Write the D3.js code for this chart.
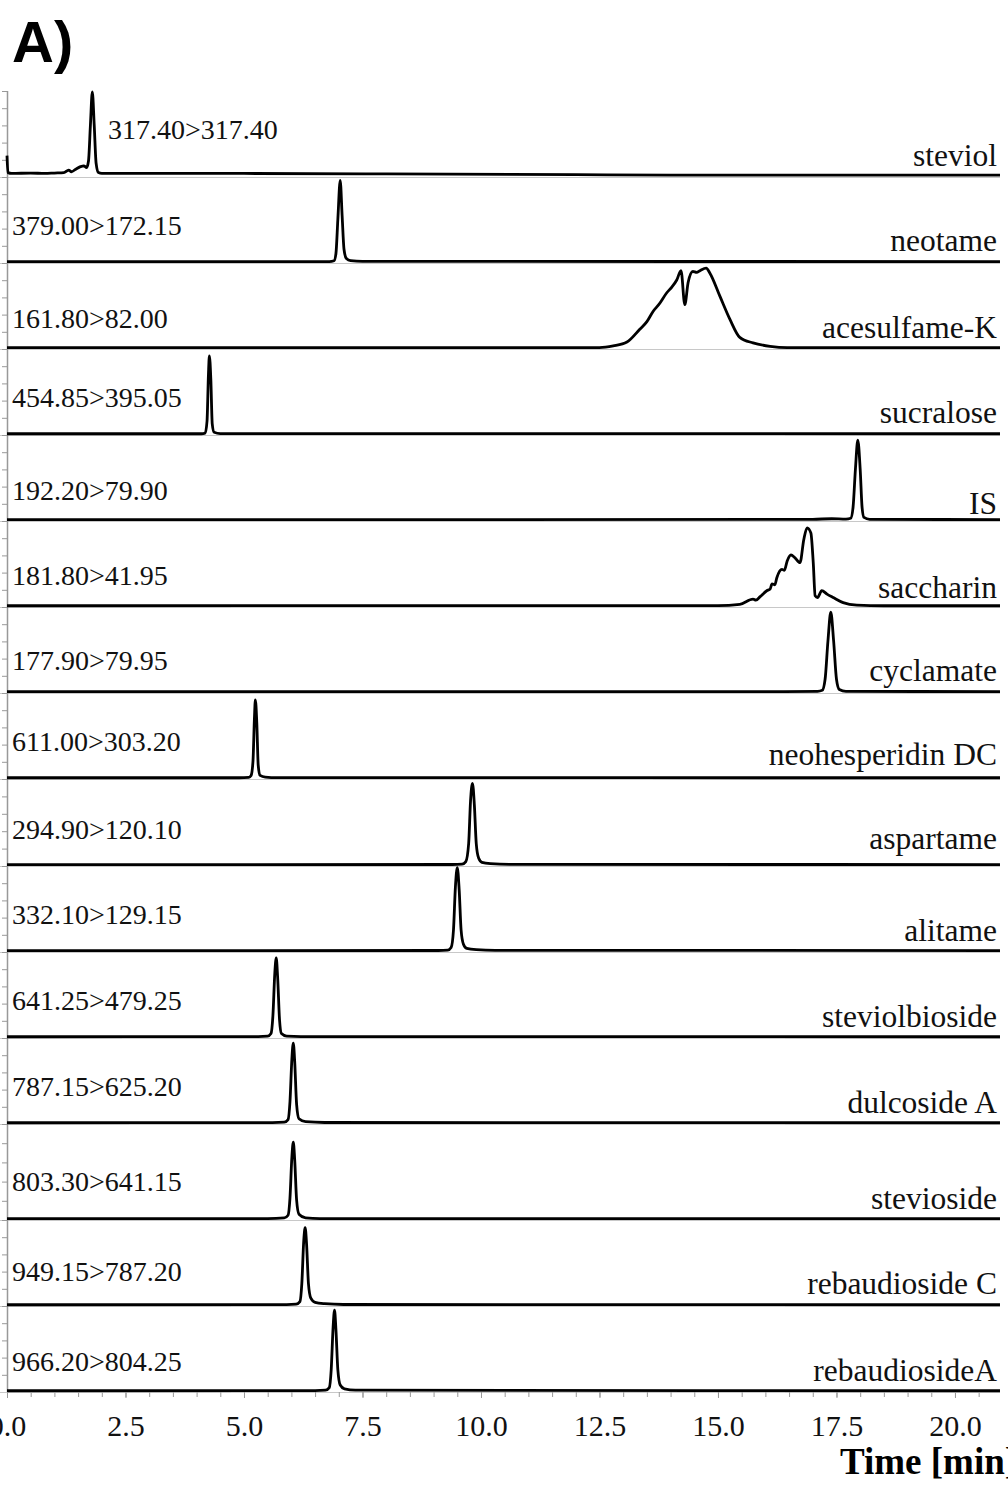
<!DOCTYPE html>
<html>
<head>
<meta charset="utf-8">
<script src="https://cdn.jsdelivr.net/npm/d3@7"></script>
<style>
  body { margin: 0; background: #fff; }
  svg { display: block; }
  .mrm { font-family: "Liberation Serif", "Times New Roman", serif; font-size: 28px; fill: #111; }
  .name { font-family: "Liberation Serif", "Times New Roman", serif; font-size: 31.5px; fill: #111; }
  .tick text { font-family: "Liberation Serif", "Times New Roman", serif; font-size: 30px; fill: #111; }
</style>
</head>
<body>
<div id="chart"></div>
<script>
// compound names (right) and MRM transitions (left), top to bottom
var compounds = ["steviol", "neotame", "acesulfame-K", "sucralose", "IS", "saccharin",
    "cyclamate", "neohesperidin DC", "aspartame", "alitame", "steviolbioside",
    "dulcoside A", "stevioside", "rebaudioside C", "rebaudiosideA"];
var transitions = ["317.40>317.40", "379.00>172.15", "161.80>82.00", "454.85>395.05",
    "192.20>79.90", "181.80>41.95", "177.90>79.95", "611.00>303.20", "294.90>120.10",
    "332.10>129.15", "641.25>479.25", "787.15>625.20", "803.30>641.15",
    "949.15>787.20", "966.20>804.25"];
var timeTicks = [0, 2.5, 5, 7.5, 10, 12.5, 15, 17.5, 20];

// traces: [time (min), intensity (% of panel)]
var steviol = [[0,24],[0.02,4],[0.1,3],[0.5,3.5],[0.8,3],[1.0,3.5],[1.2,4],[1.3,7],[1.36,5],
    [1.45,8],[1.55,11],[1.62,12],[1.68,10],[1.72,18],[1.76,60],[1.80,99],[1.84,60],[1.88,15],
    [1.93,4],[2.0,3],[3,3],[5,3],[8,2.5],[12,1.5],[14,1],[21,1]];
var neotame = [[0,0.5],[6.8,0.5],[6.9,1.5],[6.94,10],[6.98,50],[7.03,96],[7.07,55],[7.11,15],
    [7.16,4],[7.25,1.5],[7.5,0.8],[21,0.5]];
var acesulfame = [[0,0.5],[12.5,0.5],[12.79,2.5],[13.08,7],[13.35,22],[13.5,31],[13.63,43],
    [13.75,51],[13.92,65],[14.03,72],[14.13,80],[14.22,91],[14.30,51],[14.37,77],[14.47,90],
    [14.55,89],[14.62,91],[14.75,94],[14.83,88],[15.04,61],[15.25,34],[15.46,12.5],[15.74,6],
    [16.1,2],[16.46,0.5],[21,0.5]];
var sucralose = [[0,0.3],[4.1,0.3],[4.18,1],[4.22,15],[4.25,70],[4.27,92],[4.30,65],[4.33,12],
    [4.37,2],[4.5,0.5],[21,0.3]];
var istd = [[0,0.5],[10,0.5],[17,0.8],[17.4,1.5],[17.7,1],[17.8,2],[17.85,15],[17.9,60],
    [17.95,94],[18.0,60],[18.04,15],[18.08,3],[18.2,0.8],[21,0.5]];
var saccharin = [[0,0.3],[15.0,0.5],[15.46,2],[15.74,8],[15.8,7],[15.89,11],[16.03,18],
    [16.1,20],[16.14,26],[16.2,25],[16.24,33],[16.35,43],[16.4,42],[16.46,53],[16.54,60],
    [16.62,57],[16.73,51],[16.81,78],[16.88,92],[16.96,86],[17.01,51],[17.05,12],[17.1,10],
    [17.19,18],[17.30,14],[17.43,10],[17.64,4],[17.93,1],[18.5,0.3],[21,0.3]];
var cyclamate = [[0,0.5],[16,0.5],[17.1,0.8],[17.2,2],[17.26,15],[17.32,60],[17.38,94],
    [17.44,60],[17.5,15],[17.56,3],[17.7,0.8],[21,0.5]];
var neohesperidin = [[0,0.3],[4.9,0.3],[5.1,0.8],[5.15,3],[5.19,20],[5.22,70],[5.24,92],
    [5.27,65],[5.3,15],[5.34,3],[5.45,1],[5.7,0.4],[21,0.3]];
var aspartame = [[0,0.5],[9.4,0.6],[9.6,1],[9.68,4],[9.74,25],[9.78,75],[9.82,95],[9.86,70],
    [9.9,25],[9.95,8],[10.02,3],[10.2,1.5],[10.6,0.8],[21,0.5]];
var alitame = [[0,0.5],[9.1,0.6],[9.3,1],[9.37,4],[9.42,25],[9.46,75],[9.5,98],[9.54,72],
    [9.58,25],[9.63,8],[9.7,3],[9.9,1.5],[10.3,0.8],[21,0.5]];
var steviolbioside = [[0,0.3],[5.3,0.5],[5.5,1],[5.57,4],[5.61,25],[5.65,75],[5.68,93],
    [5.71,70],[5.75,20],[5.79,4],[5.9,1],[6.2,0.5],[21,0.3]];
var dulcoside = [[0,0.3],[5.6,0.5],[5.85,1],[5.93,4],[5.97,25],[6.01,75],[6.04,94],[6.07,72],
    [6.11,22],[6.16,5],[6.3,1.5],[6.7,0.6],[21,0.3]];
var stevioside = [[0,0.3],[5.5,0.5],[5.85,1.2],[5.93,4],[5.97,22],[6.01,65],[6.04,81],
    [6.07,62],[6.11,20],[6.16,5],[6.3,1.2],[6.6,0.5],[21,0.3]];
var rebC = [[0,0.3],[5.9,0.5],[6.1,1],[6.18,4],[6.22,25],[6.26,75],[6.29,91],[6.32,72],
    [6.36,25],[6.41,8],[6.5,3],[6.7,1.5],[7.1,0.6],[21,0.3]];
var rebA = [[0,0.3],[6.5,0.5],[6.72,1],[6.8,4],[6.84,25],[6.88,75],[6.91,95],[6.94,72],
    [6.98,25],[7.03,7],[7.12,2.5],[7.35,1],[21,0.3]];

var traces = [steviol, neotame, acesulfame, sucralose, istd, saccharin, cyclamate,
    neohesperidin, aspartame, alitame, steviolbioside, dulcoside, stevioside, rebC, rebA];

// layout
var W = 1008, H = 1486,
    plotLeft = 7, plotRight = 1000, plotTop = 91;
var panelPx = [86,86,86,86,86,86,86,86,87,86,86,86,96,86,86];
var mrmLift = [38,28,21,28,21,22,23,28,27,28,28,28,29,25,21];
var nameLift = [11,12,11,12,7,9,12,14,17,11,11,11,11,12,11];

var panels = [];
var acc = plotTop;
panelPx.forEach(function(h, i) {
    panels.push({ top: acc, bottom: acc + h, i: i });
    acc += h;
});
var plotBottom = acc;

var svg = d3.select("#chart").append("svg")
    .attr("width", W)
    .attr("height", H);

var x = d3.scaleLinear()
    .domain([0, 20.95])
    .range([plotLeft, plotRight]);

// panel boundaries (light grey)
svg.append("g").selectAll("line")
    .data(panels)
  .enter().append("line")
    .attr("x1", 0)
    .attr("x2", plotRight)
    .attr("y1", function(d) { return d.bottom + 0.5; })
    .attr("y2", function(d) { return d.bottom + 0.5; })
    .style("stroke", "#c8c8c8")
    .style("stroke-width", 1);

// y axis with minor ticks per panel
panels.forEach(function(p) {
    var y = d3.scaleLinear().domain([0, 100]).range([p.bottom, p.top]);
    svg.append("g")
        .attr("transform", "translate(" + plotLeft + ",0)")
        .call(d3.axisLeft(y).tickValues([20, 40, 60, 80, 100]).tickSize(5).tickFormat(""))
        .call(function(g) {
            g.select(".domain").remove();
            g.selectAll(".tick line").style("stroke", "#999");
        });
});
svg.append("line")
    .attr("x1", plotLeft + 0.5).attr("x2", plotLeft + 0.5)
    .attr("y1", plotTop).attr("y2", plotBottom)
    .style("stroke", "#999")
    .style("stroke-width", 1.5);

// traces
panels.forEach(function(p, i) {
    var y = d3.scaleLinear().domain([0, 100]).range([p.bottom - 1, p.top]);
    var line = d3.line()
        .x(function(d) { return x(Math.min(d[0], 20.95)); })
        .y(function(d) { return y(d[1]); })
        .curve(d3.curveMonotoneX);
    svg.append("path")
        .datum(traces[i])
        .attr("d", line)
        .style("fill", "none")
        .style("stroke", "#000")
        .style("stroke-width", 2.8)
        .style("stroke-linejoin", "round");

    svg.append("text")
        .attr("class", "mrm")
        .attr("x", i === 0 ? 108 : 12)
        .attr("y", p.bottom - mrmLift[i])
        .text(transitions[i]);

    svg.append("text")
        .attr("class", "name")
        .attr("x", 997)
        .attr("y", p.bottom - nameLift[i])
        .attr("text-anchor", "end")
        .text(compounds[i]);
});

// x axis: minor ticks every 0.5 min, labelled every 2.5 min
svg.append("g")
    .attr("transform", "translate(0," + plotBottom + ")")
    .call(d3.axisBottom(x).tickValues(d3.range(0, 20.9, 0.5)).tickSize(5).tickFormat(""))
    .call(function(g) {
        g.select(".domain").remove();
        g.selectAll(".tick line").style("stroke", "#999");
    });
svg.append("g")
    .attr("transform", "translate(0," + plotBottom + ")")
    .call(d3.axisBottom(x).tickValues(timeTicks).tickSize(6).tickFormat(d3.format(".1f")))
    .call(function(g) {
        g.select(".domain").remove();
        g.selectAll(".tick line").style("stroke", "#999");
        g.selectAll(".tick text").attr("y", 44).attr("dy", 0);
    });

// axis title runs off the right edge, as in the original figure
svg.append("text")
    .attr("x", 840)
    .attr("y", 1474)
    .style("font-family", "'Liberation Serif', 'Times New Roman', serif")
    .style("font-weight", "bold")
    .style("font-size", "37px")
    .text("Time [min]");

svg.append("text")
    .attr("x", 12)
    .attr("y", 62)
    .style("font-family", "'Liberation Sans', Arial, sans-serif")
    .style("font-weight", "bold")
    .style("font-size", "58px")
    .text("A)");
</script>
</body>
</html>
